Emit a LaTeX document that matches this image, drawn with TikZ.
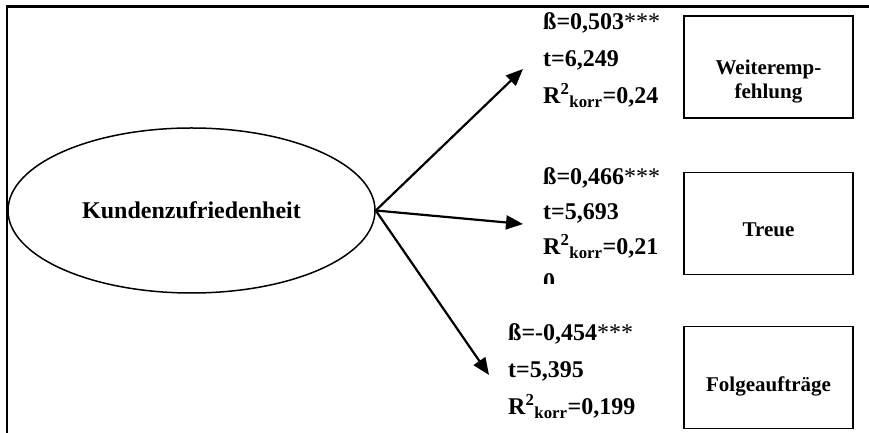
\documentclass[tikz,border=0pt]{standalone}
\usepackage{fontspec}
\setmainfont{Liberation Serif}
\usetikzlibrary{
  arrows.meta,
  positioning,
  shapes.geometric
}
\newcommand{\sigstars}{\textmd{***}}
\newcommand{\Rkorr}{R\textsuperscript{2}\textsubscript{korr}}

\begin{document}
\begin{tikzpicture}[
x=1pt, y=1pt,
>={Triangle[length=17pt,width=14pt]},
latent/.style={
draw,
ellipse,
line width=1.5pt,
minimum width=367pt,
minimum height=165pt,
inner sep=0pt,
font=\bfseries\fontsize{24}{28}\selectfont
},
outbox/.style={
draw,
line width=1.4pt,
minimum width=169pt,
minimum height=102pt,
inner sep=0pt,
align=center,
text height=27pt,
text depth=0pt,
font=\bfseries\fontsize{21}{24}\selectfont
},
coeff/.style={
anchor=base west,
align=left,
inner sep=0pt,
font=\bfseries\fontsize{24}{37}\selectfont
},
effect/.style={->, line width=2.2pt}
]
\useasboundingbox (0,0) rectangle (869,433);

% open frame, top and left side only
\draw[line width=2.6pt] (870,426.5) -- (7,426.5) -- (7,-1);

% latent construct and outcomes
\node[latent] (kz) at (191.5,222.5) {Kundenzufriedenheit};

\node[outbox, text height=63pt] (we) at (768.5,366) {Weiteremp-\\fehlung};
\node[outbox, below=53pt of we] (tr) {Treue};
\node[outbox, below=51pt of tr] (fa) {Folgeauftr\"age};

% path coefficients (anchored at the last line)
\node[coeff] (c1) at (543,329) {%
\ss=0,503\sigstars\\
t=6,249\\
\Rkorr=0,24};

\begin{scope}
\clip (530,149) rectangle (680,275);
\node[coeff, font=\bfseries\fontsize{24}{35}\selectfont] (c2) at (543,143) {%
\ss=0,466\sigstars\\
t=5,693\\
\Rkorr=0,21\\
0};
\end{scope}

\node[coeff] (c3) at (508,18) {%
\ss=-0,454\sigstars\\
t=5,395\\
\Rkorr=0,199};

% arrow ends
\coordinate (e1) at (523,364);
\coordinate (e2) at (523,209);
\coordinate (e3) at (489,58);

\draw[effect] (kz.east) -- (e1);
\draw[effect] (kz.east) -- (e2);
\draw[effect] (kz.east) -- (e3);

\end{tikzpicture}
\end{document}
